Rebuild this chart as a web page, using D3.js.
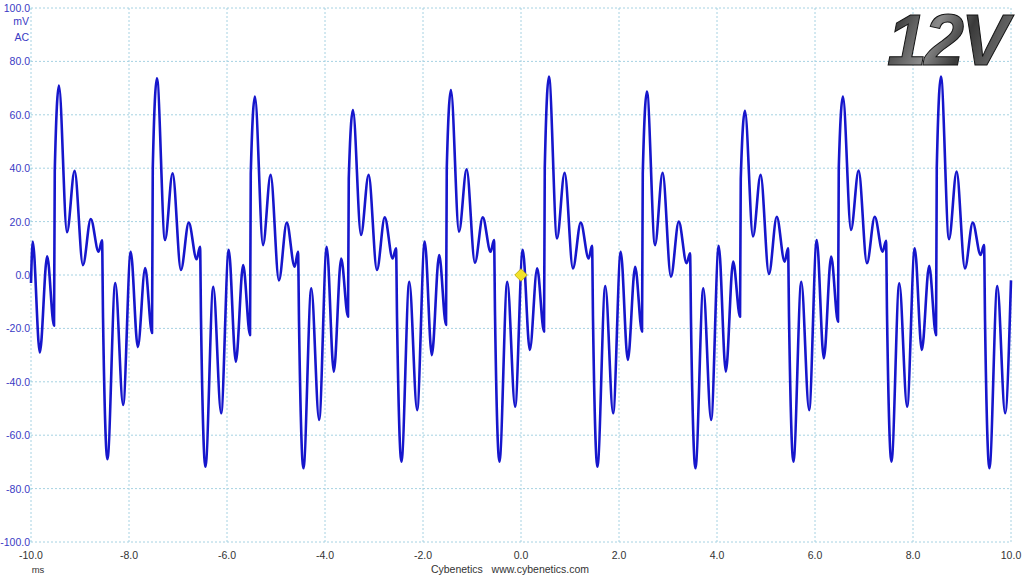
<!DOCTYPE html>
<html>
  <head>
    <meta charset="utf-8">
    <script src="https://d3js.org/d3.v7.min.js"></script>
    <style>
      body { margin: 0; background: #fff; }
      svg { display: block; }
    </style>
  </head>
  <body>
    <svg id="scope" width="1024" height="576"></svg>

    <script>
      // time axis (ms) and voltage axis (mV)
      const xTicks = [-10, -8, -6, -4, -2, 0, 2, 4, 6, 8, 10];
      const yTicks = [-100, -80, -60, -40, -20, 0, 20, 40, 60, 80, 100];

      // where each steep rising edge starts, ms
      const riseTimes = [-9.53, -7.53, -5.53, -3.53, -1.53, 0.47, 2.47, 4.47, 6.47, 8.47];

      // time of each turning point after a rising edge, ms
      const phase = [0, 0.015, 0.10, 0.265, 0.42, 0.59, 0.75, 0.91, 0.98, 1.00,
                     1.09, 1.25, 1.41, 1.565, 1.71, 1.86];

      // mV at those turning points, one row per cycle
      const cycles = [
        [-19.0, 39, 71.0, 16.0, 39.0, 3.7, 21.0, 8.7, 13.0, -16, -69.0, -3.0, -48.7, 8.7, -27.0, 2.6],
        [-21.7, 40, 73.7, 13.1, 38.1, 1.9, 19.6, 5.9, 10.6, -17, -71.8, -4.4, -51.8, 9.4, -32.5, 3.7],
        [-22.5, 38, 66.8, 11.2, 37.5, -2.0, 19.6, 3.1, 8.7, -18, -72.4, -5.0, -54.3, 10.6, -36.2, 6.2],
        [-15.6, 36, 61.8, 15.0, 37.5, 1.9, 21.6, 6.2, 10.0, -16, -69.9, -2.5, -50.6, 12.5, -30.0, 7.5],
        [-18.7, 40, 69.3, 16.2, 39.6, 4.6, 21.6, 8.7, 13.1, -15, -69.9, -2.5, -49.3, 9.4, -28.1, 2.5],
        [-21.2, 40, 74.3, 13.7, 38.3, 2.5, 19.6, 6.2, 10.9, -17, -71.8, -4.1, -51.8, 8.7, -31.8, 3.1],
        [-21.2, 38, 68.7, 11.2, 38.3, -0.6, 20.0, 4.4, 8.1, -18, -72.4, -5.0, -54.3, 10.9, -36.2, 5.0],
        [-15.6, 36, 61.5, 14.4, 37.5, 0.4, 21.8, 5.0, 10.0, -16, -69.9, -2.5, -50.6, 13.1, -31.2, 6.9],
        [-17.5, 40, 66.8, 16.9, 39.1, 4.4, 21.8, 8.7, 12.8, -15, -69.9, -3.1, -49.3, 10.0, -28.1, 3.4],
        [-22.5, 40, 74.3, 13.4, 38.7, 2.5, 19.6, 7.5, 11.2, -17, -72.4, -4.1, -51.8]
      ];

      // the partial cycle before the first edge and the trace end
      const leadIn = [[-10, -3], [-9.965, 12.5], [-9.82, -29], [-9.67, 7]];
      const tail = [[10, -2]];

      const trigger = [0, 0];

      const svg = d3.select('#scope');
      const margin = { left: 31, right: 13, top: 8, bottom: 34 };
      const width = 1024, height = 576;
      const labelFont = 'Liberation Sans, Arial, sans-serif';

      const x = d3.scaleLinear().domain([-10, 10]).range([margin.left, width - margin.right]);
      const y = d3.scaleLinear().domain([-100, 100]).range([height - margin.bottom, margin.top]);

      // grid
      svg.append('g')
        .selectAll('line')
        .data(xTicks)
        .join('line')
        .attr('x1', d => x(d)).attr('x2', d => x(d))
        .attr('y1', y(100)).attr('y2', y(-100))
        .attr('stroke', '#a6d2e2')
        .attr('stroke-dasharray', '2,2');

      svg.append('g')
        .selectAll('line')
        .data(yTicks)
        .join('line')
        .attr('x1', x(-10)).attr('x2', x(10))
        .attr('y1', d => y(d)).attr('y2', d => y(d))
        .attr('stroke', '#a6d2e2')
        .attr('stroke-dasharray', '2,2');

      // y labels
      svg.append('g')
        .selectAll('text')
        .data(yTicks)
        .join('text')
        .attr('x', x(-10) - 1)
        .attr('y', d => y(d) + 4)
        .attr('text-anchor', 'end')
        .attr('font-family', labelFont)
        .attr('font-size', 10.5)
        .attr('fill', '#3a3ac4')
        .text(d => d.toFixed(1));

      svg.append('text')
        .attr('x', x(-10) - 2).attr('y', 25)
        .attr('text-anchor', 'end')
        .attr('font-family', labelFont)
        .attr('font-size', 10.5)
        .attr('fill', '#3a3ac4')
        .text('mV');

      svg.append('text')
        .attr('x', x(-10) - 2).attr('y', 41)
        .attr('text-anchor', 'end')
        .attr('font-family', labelFont)
        .attr('font-size', 10.5)
        .attr('fill', '#3a3ac4')
        .text('AC');

      // x labels
      svg.append('g')
        .selectAll('text')
        .data(xTicks)
        .join('text')
        .attr('x', d => x(d))
        .attr('y', y(-100) + 17)
        .attr('text-anchor', 'middle')
        .attr('font-family', labelFont)
        .attr('font-size', 10.5)
        .attr('fill', '#333')
        .text(d => d.toFixed(1));

      svg.append('text')
        .attr('x', 38).attr('y', 573)
        .attr('text-anchor', 'middle')
        .attr('font-family', labelFont)
        .attr('font-size', 9.5)
        .attr('fill', '#333')
        .text('ms');

      svg.append('text')
        .attr('x', 510).attr('y', 573)
        .attr('text-anchor', 'middle')
        .attr('font-family', labelFont)
        .attr('font-size', 10.5)
        .attr('fill', '#333')
        .attr('xml:space', 'preserve')
        .text('Cybenetics   www.cybenetics.com');

      // waveform points
      const points = leadIn.slice();
      cycles.forEach((row, i) => {
        row.forEach((v, j) => points.push([riseTimes[i] + phase[j], v]));
      });
      tail.forEach(p => points.push(p));

      const line = d3.line()
        .x(d => x(d[0]))
        .y(d => y(d[1]))
        .curve(d3.curveMonotoneX);

      svg.append('path')
        .datum(points)
        .attr('d', line)
        .attr('fill', 'none')
        .attr('stroke', '#1616cc')
        .attr('stroke-width', 2.6)
        .attr('stroke-linejoin', 'round');

      // trigger marker
      svg.append('path')
        .attr('d', d3.symbol().type(d3.symbolDiamond2).size(100)())
        .attr('transform', `translate(${x(trigger[0])},${y(trigger[1])})`)
        .attr('fill', '#f2e22a')
        .attr('stroke', '#b8a400')
        .attr('stroke-width', 0.8);

      // rail label
      const defs = svg.append('defs');
      const grad = defs.append('linearGradient')
        .attr('id', 'railGrad')
        .attr('x1', '0').attr('y1', '0').attr('x2', '1').attr('y2', '0.3');
      grad.append('stop').attr('offset', '0%').attr('stop-color', '#1c1c1c');
      grad.append('stop').attr('offset', '45%').attr('stop-color', '#8a8a8a');
      grad.append('stop').attr('offset', '70%').attr('stop-color', '#3a3a3a');
      grad.append('stop').attr('offset', '100%').attr('stop-color', '#6a6a6a');

      svg.append('text')
        .attr('x', 1006).attr('y', 65)
        .attr('text-anchor', 'end')
        .attr('font-family', 'Liberation Sans, Arial, sans-serif')
        .attr('font-weight', 'bold')
        .attr('font-style', 'italic')
        .attr('font-size', 72)
        .attr('letter-spacing', -3)
        .attr('fill', 'url(#railGrad)')
        .attr('stroke', '#111')
        .attr('stroke-width', 1)
        .text('12V');
    </script>
  </body>
</html>
